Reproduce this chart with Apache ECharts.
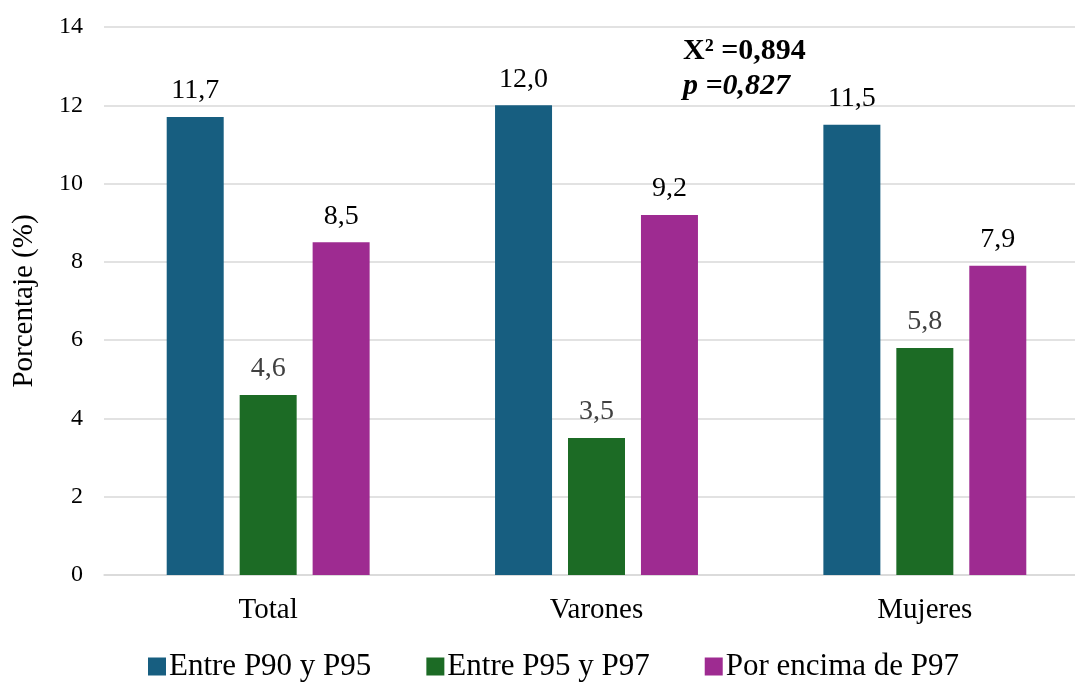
<!DOCTYPE html>
<html><head><meta charset="utf-8">
<script src="https://cdn.jsdelivr.net/npm/echarts@6/dist/echarts.min.js"></script>
<style>html,body{margin:0;padding:0;background:#fff}#c{width:1075px;height:682px}</style>
</head><body><div id="c"></div>
<script>
const categories = ['Total', 'Varones', 'Mujeres'];
const seriesNames = ['Entre P90 y P95', 'Entre P95 y P97', 'Por encima de P97'];
const p90p95 = [11.7, 12.0, 11.5];
const p95p97 = [4.6, 3.5, 5.8];
const abovep97 = [8.5, 9.2, 7.9];
const yTicks = [0, 2, 4, 6, 8, 10, 12, 14];
const colors = ['#175e80', '#1c6b25', '#9e2b91'];
const labelColors = ['#000', '#404040', '#000'];
const font = '"Liberation Serif", "Times New Roman", serif';

const chart = echarts.init(document.getElementById('c'));
const data = [p90p95, p95p97, abovep97];
chart.setOption({
  animation: false,
  textStyle: { fontFamily: font },
  grid: { left: 104, top: 27, width: 985, height: 548, containLabel: false, outerBoundsMode: 'none' },
  legend: {
    data: seriesNames, bottom: -5, left: 143, itemWidth: 18, itemHeight: 18, itemGap: 55,
    icon: 'rect',
    textStyle: { fontFamily: font, fontSize: 31, color: '#000', padding: [0, 0, 0, -2] }
  },
  xAxis: {
    type: 'category', data: categories,
    axisLine: { lineStyle: { color: '#d9d9d9', width: 1.5 } },
    axisTick: { show: false },
    axisLabel: { fontFamily: font, fontSize: 29, color: '#000', margin: 21 }
  },
  yAxis: {
    type: 'value', min: yTicks[0], max: yTicks[yTicks.length - 1], interval: 2,
    name: 'Porcentaje (%)', nameLocation: 'middle', nameGap: 65,
    nameTextStyle: { fontFamily: font, fontSize: 29, color: '#000' },
    axisLine: { show: false }, axisTick: { show: false },
    axisLabel: { fontFamily: font, fontSize: 24, color: '#000', margin: 21 },
    splitLine: { lineStyle: { color: '#d9d9d9', width: 1.5 } }
  },
  series: data.map((d, i) => ({
    name: seriesNames[i], type: 'bar', data: d,
    barWidth: 57, barGap: '28%',
    itemStyle: { color: colors[i] },
    label: {
      show: true, position: 'top', distance: 12,
      fontFamily: font, fontSize: 28, color: labelColors[i],
      formatter: p => p.value.toFixed(1).replace('.', ',')
    }
  })),
  graphic: [
    { type: 'text', left: 683, top: 36, style: { text: 'X² =0,894', font: 'bold 30px ' + font, fill: '#000' } },
    { type: 'text', left: 683, top: 71, style: { text: 'p =0,827', font: 'italic bold 30px ' + font, fill: '#000' } }
  ]
});
</script></body></html>
